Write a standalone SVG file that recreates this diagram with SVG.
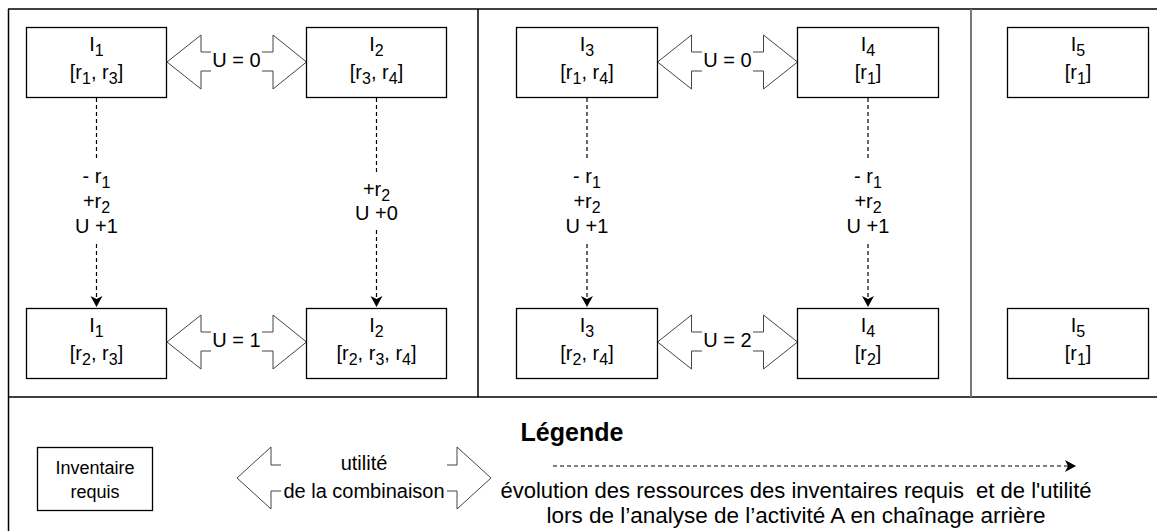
<svg xmlns="http://www.w3.org/2000/svg" width="1157" height="531" viewBox="0 0 1157 531">
<style>
.frame{stroke:#000;stroke-width:1.5;fill:none}
.box{fill:#fff;stroke:#000;stroke-width:1.3}
.t{font-family:"Liberation Sans",Arial,sans-serif;font-size:20px;fill:#000;text-anchor:middle}
.sub{font-size:16px}
.conn{stroke:#000;stroke-width:1.2;stroke-dasharray:4 3;fill:none}
.dbl{fill:#fff;stroke:#444;stroke-width:1}
.bg{fill:#fff;stroke:none}
</style>
<defs>
<marker id="ah" markerUnits="userSpaceOnUse" markerWidth="14" markerHeight="14" refX="11" refY="6" orient="auto">
<path d="M0,0 L11,6 L0,12 L3,6 Z" fill="#000"/>
</marker>
</defs>
<rect width="1157" height="531" fill="#fff"/>
<g id="frame">
<line class="frame" x1="8" y1="9" x2="1157" y2="9"/>
<line class="frame" x1="8.5" y1="9" x2="8.5" y2="531"/>
<line class="frame" x1="8" y1="397" x2="1157" y2="397"/>
<line class="frame" x1="478" y1="9" x2="478" y2="397"/>
<line x1="971" y1="9" x2="971" y2="397" stroke="#777" stroke-width="2"/>
</g>
<g id="connectors">
<line class="conn" x1="96.5" y1="98" x2="96.5" y2="158"/>
<line class="conn" x1="96.5" y1="244" x2="96.5" y2="307" marker-end="url(#ah)"/>
<line class="conn" x1="376.5" y1="98" x2="376.5" y2="175"/>
<line class="conn" x1="376.5" y1="230" x2="376.5" y2="307" marker-end="url(#ah)"/>
<line class="conn" x1="587" y1="98" x2="587" y2="158"/>
<line class="conn" x1="587" y1="244" x2="587" y2="307" marker-end="url(#ah)"/>
<line class="conn" x1="868" y1="98" x2="868" y2="158"/>
<line class="conn" x1="868" y1="244" x2="868" y2="307" marker-end="url(#ah)"/>
<text class="t" x="96.5" y="183">- r<tspan class="sub" dy="5">1</tspan></text>
<text class="t" x="96.5" y="208">+r<tspan class="sub" dy="5">2</tspan></text>
<text class="t" x="96.5" y="233">U +1</text>
<text class="t" x="376.5" y="196">+r<tspan class="sub" dy="5">2</tspan></text>
<text class="t" x="376.5" y="220">U +0</text>
<text class="t" x="587" y="183">- r<tspan class="sub" dy="5">1</tspan></text>
<text class="t" x="587" y="208">+r<tspan class="sub" dy="5">2</tspan></text>
<text class="t" x="587" y="233">U +1</text>
<text class="t" x="868" y="183">- r<tspan class="sub" dy="5">1</tspan></text>
<text class="t" x="868" y="208">+r<tspan class="sub" dy="5">2</tspan></text>
<text class="t" x="868" y="233">U +1</text>
</g>
<g id="util-12-top">
<polygon class="dbl" points="167,62 201,35 201,52 273,52 273,35 306.5,62 273,89 273,71 201,71 201,89"/>
<rect class="bg" x="211" y="50" width="51" height="23"/>
<text class="t" x="236.5" y="67">U = 0</text>
</g>
<g id="util-12-bottom">
<polygon class="dbl" points="167,342 201,315 201,332 273,332 273,315 306.5,342 273,369 273,351 201,351 201,369"/>
<rect class="bg" x="211" y="330" width="51" height="23"/>
<text class="t" x="236.5" y="347">U = 1</text>
</g>
<g id="util-34-top">
<polygon class="dbl" points="657.5,62 691.5,35 691.5,52 763.5,52 763.5,35 797.5,62 763.5,89 763.5,71 691.5,71 691.5,89"/>
<rect class="bg" x="702" y="50" width="51" height="23"/>
<text class="t" x="727.5" y="67">U = 0</text>
</g>
<g id="util-34-bottom">
<polygon class="dbl" points="657.5,342 691.5,315 691.5,332 763.5,332 763.5,315 797.5,342 763.5,369 763.5,351 691.5,351 691.5,369"/>
<rect class="bg" x="702" y="330" width="51" height="23"/>
<text class="t" x="727.5" y="347">U = 2</text>
</g>
<g id="I1-top"><rect class="box" x="26.5" y="27.5" width="140" height="70"/>
<text class="t" x="96.5" y="51">I<tspan class="sub" dy="5">1</tspan></text>
<text class="t" x="96.5" y="79">[r<tspan class="sub" dy="5">1</tspan><tspan dy="-5">, r</tspan><tspan class="sub" dy="5">3</tspan><tspan dy="-5">]</tspan></text></g>
<g id="I2-top"><rect class="box" x="306.5" y="27.5" width="140" height="70"/>
<text class="t" x="376.5" y="51">I<tspan class="sub" dy="5">2</tspan></text>
<text class="t" x="376.5" y="79">[r<tspan class="sub" dy="5">3</tspan><tspan dy="-5">, r</tspan><tspan class="sub" dy="5">4</tspan><tspan dy="-5">]</tspan></text></g>
<g id="I3-top"><rect class="box" x="516.5" y="27.5" width="141" height="70"/>
<text class="t" x="587" y="51">I<tspan class="sub" dy="5">3</tspan></text>
<text class="t" x="587" y="79">[r<tspan class="sub" dy="5">1</tspan><tspan dy="-5">, r</tspan><tspan class="sub" dy="5">4</tspan><tspan dy="-5">]</tspan></text></g>
<g id="I4-top"><rect class="box" x="797.5" y="27.5" width="141" height="70"/>
<text class="t" x="868" y="51">I<tspan class="sub" dy="5">4</tspan></text>
<text class="t" x="868" y="79">[r<tspan class="sub" dy="5">1</tspan><tspan dy="-5">]</tspan></text></g>
<g id="I5-top"><rect class="box" x="1007.5" y="27.5" width="141" height="70"/>
<text class="t" x="1078" y="51">I<tspan class="sub" dy="5">5</tspan></text>
<text class="t" x="1078" y="79">[r<tspan class="sub" dy="5">1</tspan><tspan dy="-5">]</tspan></text></g>
<g id="I1-bottom"><rect class="box" x="26.5" y="308.5" width="140" height="70"/>
<text class="t" x="96.5" y="332">I<tspan class="sub" dy="5">1</tspan></text>
<text class="t" x="96.5" y="360">[r<tspan class="sub" dy="5">2</tspan><tspan dy="-5">, r</tspan><tspan class="sub" dy="5">3</tspan><tspan dy="-5">]</tspan></text></g>
<g id="I2-bottom"><rect class="box" x="306.5" y="308.5" width="140" height="70"/>
<text class="t" x="376.5" y="332">I<tspan class="sub" dy="5">2</tspan></text>
<text class="t" x="376.5" y="360">[r<tspan class="sub" dy="5">2</tspan><tspan dy="-5">, r</tspan><tspan class="sub" dy="5">3</tspan><tspan dy="-5">, r</tspan><tspan class="sub" dy="5">4</tspan><tspan dy="-5">]</tspan></text></g>
<g id="I3-bottom"><rect class="box" x="516.5" y="308.5" width="141" height="70"/>
<text class="t" x="587" y="332">I<tspan class="sub" dy="5">3</tspan></text>
<text class="t" x="587" y="360">[r<tspan class="sub" dy="5">2</tspan><tspan dy="-5">, r</tspan><tspan class="sub" dy="5">4</tspan><tspan dy="-5">]</tspan></text></g>
<g id="I4-bottom"><rect class="box" x="797.5" y="308.5" width="141" height="70"/>
<text class="t" x="868" y="332">I<tspan class="sub" dy="5">4</tspan></text>
<text class="t" x="868" y="360">[r<tspan class="sub" dy="5">2</tspan><tspan dy="-5">]</tspan></text></g>
<g id="I5-bottom"><rect class="box" x="1007.5" y="308.5" width="141" height="70"/>
<text class="t" x="1078" y="332">I<tspan class="sub" dy="5">5</tspan></text>
<text class="t" x="1078" y="360">[r<tspan class="sub" dy="5">1</tspan><tspan dy="-5">]</tspan></text></g>
<g id="legend">
<text class="t" x="572" y="441" style="font-weight:bold;font-size:25px">Légende</text>
<g id="legend-inventaire"><rect class="box" x="37.5" y="447.5" width="115" height="63"/>
<text class="t" x="95" y="474" style="font-size:18px">Inventaire</text>
<text class="t" x="95" y="498" style="font-size:18px">requis</text></g>
<g id="legend-utilite">
<polygon class="dbl" points="237,478 271,447 271,465 457,465 457,447 491,478 457,509 457,491 271,491 271,509"/>
<rect class="bg" x="281" y="450" width="166" height="54"/>
<text class="t" x="364" y="470">utilité</text>
<text class="t" x="364" y="498">de la combinaison</text>
</g>
<g id="legend-evolution">
<line class="conn" x1="553" y1="466" x2="1076" y2="466" stroke-dasharray="3 3" marker-end="url(#ah)"/>
<text class="t" x="796" y="498" style="white-space:pre;font-size:22px">évolution des ressources des inventaires requis  et de l'utilité</text>
<text class="t" x="796" y="523" style="font-size:22.5px">lors de l’analyse de l’activité A en chaînage arrière</text>
</g>
</g>
</svg>
